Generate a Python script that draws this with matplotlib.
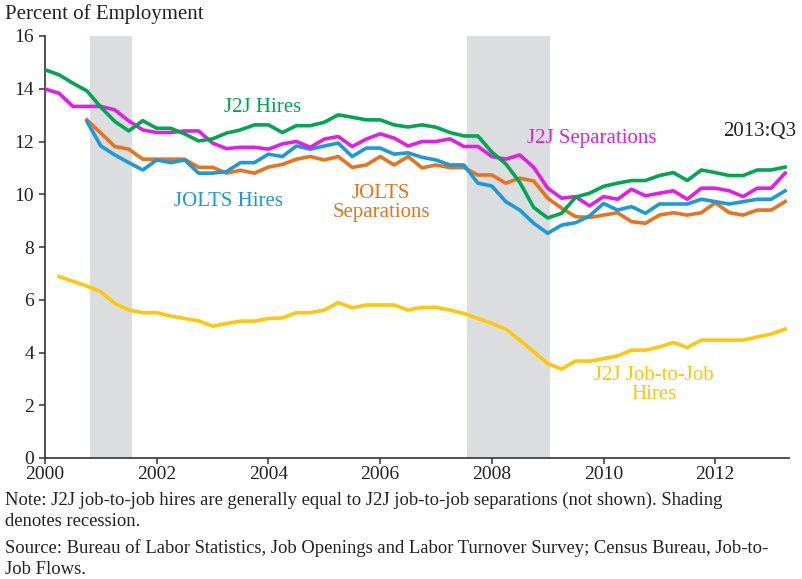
import numpy as np
import matplotlib
matplotlib.use("Agg")
import matplotlib.pyplot as plt

# dados trimestrais, 2000:Q1 ate 2013:Q3 (indice 0 = 2000:Q1)
quarters = np.arange(54)

j2j_hires = [14.72, 14.53, 14.21, 13.92, 13.30, 12.76, 12.40, 12.79, 12.50, 12.50,
             12.29, 12.02, 12.10, 12.32, 12.44, 12.63, 12.63, 12.34, 12.60, 12.60,
             12.73, 13.01, 12.92, 12.82, 12.82, 12.63, 12.55, 12.63, 12.54, 12.34,
             12.21, 12.21, 11.60, 11.15, 10.45, 9.50, 9.10, 9.28, 9.89, 10.04,
             10.30, 10.42, 10.52, 10.52, 10.71, 10.82, 10.52, 10.92, 10.82, 10.71,
             10.71, 10.92, 10.92, 11.03]

j2j_separations = [13.99, 13.83, 13.33, 13.33, 13.33, 13.20, 12.78, 12.44, 12.34, 12.34,
                   12.40, 12.40, 11.94, 11.73, 11.78, 11.78, 11.71, 11.91, 12.00, 11.78,
                   12.09, 12.19, 11.81, 12.09, 12.29, 12.13, 11.83, 12.00, 12.00, 12.10,
                   11.81, 11.81, 11.43, 11.33, 11.49, 11.02, 10.23, 9.85, 9.91, 9.56,
                   9.91, 9.81, 10.19, 9.94, 10.04, 10.13, 9.81, 10.23, 10.23, 10.13,
                   9.91, 10.23, 10.23, 10.80]

# JOLTS comeca em 2000:Q4
jolts_hires = [np.nan] * 3 + [
    12.76, 11.83, 11.49, 11.20, 10.92, 11.30, 11.20, 11.30, 10.80, 10.80,
    10.86, 11.20, 11.20, 11.52, 11.43, 11.83, 11.71, 11.83, 11.94, 11.43,
    11.75, 11.75, 11.52, 11.57, 11.40, 11.30, 11.11, 11.11, 10.42, 10.31,
    9.72, 9.40, 8.90, 8.52, 8.83, 8.92, 9.18, 9.65, 9.40, 9.53,
    9.28, 9.63, 9.63, 9.63, 9.81, 9.72, 9.63, 9.72, 9.81, 9.81,
    10.13]

jolts_separations = [np.nan] * 3 + [
    12.82, 12.32, 11.81, 11.71, 11.33, 11.33, 11.33, 11.33, 11.02, 11.02,
    10.80, 10.91, 10.80, 11.03, 11.13, 11.33, 11.43, 11.30, 11.43, 11.02,
    11.11, 11.43, 11.11, 11.43, 11.00, 11.11, 11.01, 11.01, 10.73, 10.73,
    10.42, 10.61, 10.50, 9.85, 9.47, 9.15, 9.12, 9.21, 9.30, 8.96,
    8.90, 9.21, 9.30, 9.21, 9.30, 9.68, 9.30, 9.21, 9.40, 9.40,
    9.72]

# job-to-job comeca em 2000:Q2
j2j_job_to_job = [np.nan] + [
    6.88, 6.70, 6.52, 6.30, 5.86, 5.61, 5.51, 5.51, 5.38, 5.29,
    5.20, 5.00, 5.10, 5.19, 5.19, 5.29, 5.31, 5.51, 5.51, 5.61,
    5.89, 5.70, 5.80, 5.80, 5.80, 5.61, 5.71, 5.71, 5.61, 5.48,
    5.29, 5.10, 4.89, 4.47, 4.03, 3.58, 3.37, 3.68, 3.67, 3.77,
    3.87, 4.09, 4.09, 4.21, 4.38, 4.19, 4.47, 4.47, 4.47, 4.47,
    4.59, 4.70, 4.89]

recessions = [(2000.80, 2001.55), (2007.55, 2009.04)]

GREEN = '#00a651'
MAGENTA = '#e31ee3'
BLUE = '#1b9ad8'
ORANGE = '#e8731c'
YELLOW = '#ffc70a'
TEXT = '#222222'

plt.rcParams['font.family'] = ['Liberation Serif', 'DejaVu Serif']

fig = plt.figure(figsize=(8.02, 5.79), dpi=100)
ax = fig.add_axes([45 / 802, 121 / 579, 744 / 802, 422 / 579])

years = 2000 + quarters * 0.25

for start, end in recessions:  # sombreamento das recessoes
    ax.axvspan(start, end, color='#dcdddf', lw=0, zorder=0)

ax.plot(years, j2j_job_to_job, color=YELLOW, lw=2.6, zorder=2)
ax.plot(years, jolts_separations, color=ORANGE, lw=2.6, zorder=3)
ax.plot(years, jolts_hires, color=BLUE, lw=2.6, zorder=4)
ax.plot(years, j2j_separations, color=MAGENTA, lw=2.6, zorder=5)
ax.plot(years, j2j_hires, color=GREEN, lw=2.6, zorder=6)

ax.set_xlim(2000, 2013.32)
ax.set_ylim(0, 16)
ax.set_xticks(range(2000, 2013, 2))
ax.set_yticks(range(0, 17, 2))

for side in ['top', 'right']:
    ax.spines[side].set_visible(False)
for side in ['left', 'bottom']:
    ax.spines[side].set_linewidth(1.2)
    ax.spines[side].set_color('#333333')
ax.tick_params(direction='out', length=4.5, width=1.1, color='#333333',
               labelsize=14, labelcolor=TEXT)
ax.tick_params(axis='x', pad=1.5)
ax.tick_params(axis='y', pad=3.5)

# rotulos das series
lbl = 15
ax.text(2003.89, 13.28, 'J2J Hires', color=GREEN, fontsize=lbl, ha='center', va='center')
ax.text(2009.78, 12.12, 'J2J Separations', color=MAGENTA, fontsize=lbl, ha='center', va='center')
ax.text(2012.8, 12.38, '2013:Q3', color=TEXT, fontsize=lbl, ha='center', va='center')
ax.text(2003.29, 9.73, 'JOLTS Hires', color=BLUE, fontsize=lbl, ha='center', va='center')
ax.text(2006.02, 9.65, 'JOLTS\nSeparations', color=ORANGE, fontsize=lbl,
        ha='center', va='center', linespacing=1.0)
ax.text(2010.9, 2.77, 'J2J Job-to-Job\nHires', color=YELLOW, fontsize=lbl,
        ha='center', va='center', linespacing=1.0)

fig.text(5 / 802, 1 - 14 / 579, 'Percent of Employment', fontsize=lbl,
         color=TEXT, ha='left', va='center')

# notas de rodape, uma linha por vez
footnotes = [
    ('Note: J2J job-to-job hires are generally equal to J2J job-to-job separations (not shown). Shading', 500),
    ('denotes recession.', 522),
    ('Source: Bureau of Labor Statistics, Job Openings and Labor Turnover Survey; Census Bureau, Job-to-', 548),
    ('Job Flows.', 569),
]
for line, ypix in footnotes:
    fig.text(5 / 802, 1 - ypix / 579, line, fontsize=13.4, color=TEXT,
             ha='left', va='center')

fig.savefig('out.png', dpi=100)
